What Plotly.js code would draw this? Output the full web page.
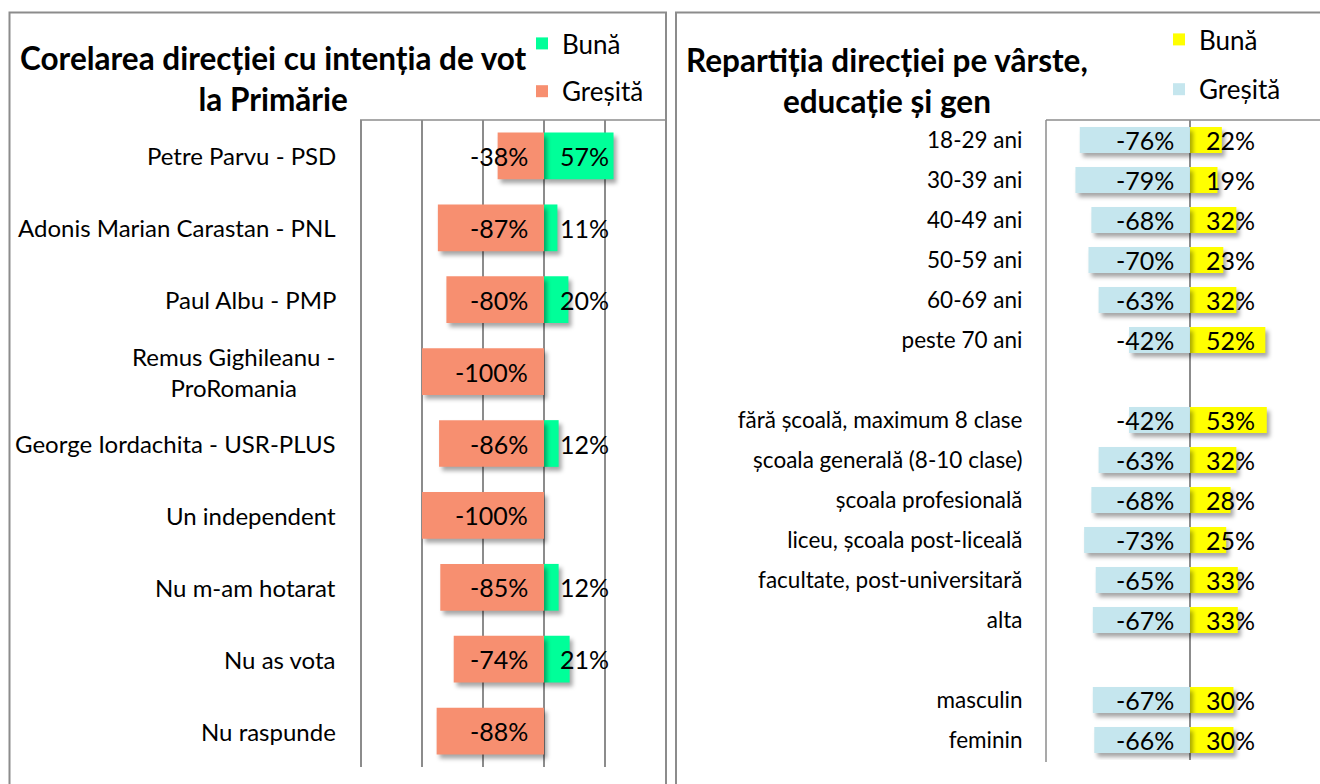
<!DOCTYPE html>
<html>
<head>
<meta charset="utf-8">
<script src="https://cdn.plot.ly/plotly-3.0.1.min.js"></script>
<style>
  html, body { margin: 0; padding: 0; background: #fff; }
  #chart { width: 1320px; height: 784px; }
  .trace.bars .point path { filter: drop-shadow(3px 4px 2px rgba(0,0,0,0.35)); }
</style>
</head>
<body>
<div id="chart"></div>
<script>
// ---- Left chart data ----
const leftCategories = [
  "Petre Parvu - PSD",
  "Adonis Marian Carastan - PNL",
  "Paul Albu - PMP",
  "Remus Gighileanu -<br>ProRomania",
  "George Iordachita - USR-PLUS",
  "Un independent",
  "Nu m-am hotarat",
  "Nu as vota",
  "Nu raspunde"
];
const leftBuna    = [57, 11, 20, null, 12, null, 12, 21, null];
const leftGresita = [-38, -87, -80, -100, -86, -100, -85, -74, -88];

// ---- Right chart data ----
const rightCategories = [
  "18-29 ani", "30-39 ani", "40-49 ani", "50-59 ani", "60-69 ani", "peste 70 ani",
  " ",
  "fără școală, maximum 8 clase", "școala generală (8-10 clase)", "școala profesională",
  "liceu, școala post-liceală", "facultate, post-universitară", "alta",
  "  ",
  "masculin", "feminin"
];
const rightBuna    = [22, 19, 32, 23, 32, 52, null, 53, 32, 28, 25, 33, 33, null, 30, 30];
const rightGresita = [-76, -79, -68, -70, -63, -42, null, -42, -63, -68, -73, -65, -67, null, -67, -66];

const leftTitle  = "Corelarea direcției cu intenția de vot<br>la Primărie";
const rightTitle = "Repartiția direcției pe vârste,<br>educație și gen";
const seriesNames = ["Bună", "Greșită"];

const FONT = "Lato, 'Open Sans', sans-serif";
const W = 1320, H = 784;
const px = v => v / W;
const py = v => 1 - v / H;

const fmt = v => v + "%";

const traces = [
  { type: "bar", orientation: "h", name: seriesNames[0], y: leftCategories, x: leftBuna,
    xaxis: "x", yaxis: "y", width: 0.65, marker: { color: "#00FF99" },
    legend: "legend", legendgroup: "lb", hoverinfo: "skip" },
  { type: "bar", orientation: "h", name: seriesNames[1], y: leftCategories, x: leftGresita,
    xaxis: "x", yaxis: "y", width: 0.65, marker: { color: "#F78F70" },
    legend: "legend", legendgroup: "lg", hoverinfo: "skip" },
  { type: "bar", orientation: "h", name: seriesNames[0], y: rightCategories, x: rightBuna,
    xaxis: "x2", yaxis: "y2", width: 0.65, marker: { color: "#FFFF00" },
    legend: "legend2", legendgroup: "rb", hoverinfo: "skip" },
  { type: "bar", orientation: "h", name: seriesNames[1], y: rightCategories, x: rightGresita,
    xaxis: "x2", yaxis: "y2", width: 0.65, marker: { color: "#C5E6EE" },
    legend: "legend2", legendgroup: "rg", hoverinfo: "skip" }
];

const annotations = [];
const labelFont = { family: FONT, size: 25, color: "#000" };

function addValueLabels(cats, vals, xref, yref) {
  cats.forEach((c, i) => {
    const v = vals[i];
    if (v === null || v === undefined) return;
    annotations.push({
      x: 0, y: c, xref: xref, yref: yref, text: fmt(v), showarrow: false,
      xanchor: v < 0 ? "right" : "left", xshift: v < 0 ? -14 : 14,
      font: labelFont
    });
  });
}
addValueLabels(leftCategories, leftGresita, "x", "y");
addValueLabels(leftCategories, leftBuna, "x", "y");
addValueLabels(rightCategories, rightGresita, "x2", "y2");
addValueLabels(rightCategories, rightBuna, "x2", "y2");

// left category labels (centered multi-line, right-aligned block)
leftCategories.forEach(c => {
  annotations.push({
    x: px(338), xref: "paper", y: c, yref: "y", text: c, showarrow: false,
    xanchor: "right", align: "center",
    font: { family: FONT, size: 24, color: "#000" }
  });
});

// titles
annotations.push({
  x: px(273), y: py(78), xref: "paper", yref: "paper", text: leftTitle, showarrow: false,
  xanchor: "center", yanchor: "middle", align: "center",
  font: { family: FONT, size: 31.5, color: "#000", weight: "bold" }
});
annotations.push({
  x: px(887), y: py(80), xref: "paper", yref: "paper", text: rightTitle, showarrow: false,
  xanchor: "center", yanchor: "middle", align: "center",
  font: { family: FONT, size: 31.5, color: "#000", weight: "bold" }
});

const boxLine = { color: "#8C8C8C", width: 2 };
const gridCol = "#8C8C8C";

const shapes = [
  // panel frames
  { type: "rect", xref: "paper", yref: "paper", x0: px(9.5), x1: px(666), y0: -0.05, y1: py(12.5), line: boxLine },
  { type: "rect", xref: "paper", yref: "paper", x0: px(676), x1: 1.05, y0: -0.05, y1: py(12.5), line: boxLine },
  // plot area top lines
  { type: "line", xref: "paper", yref: "paper", x0: px(360), x1: px(666), y0: py(120), y1: py(120), line: { color: gridCol, width: 1.5 } },
  { type: "line", xref: "paper", yref: "paper", x0: px(1046), x1: 1, y0: py(120), y1: py(120), line: { color: gridCol, width: 1.5 } },
  // right plot area left border
  { type: "line", xref: "paper", yref: "paper", x0: px(1046), x1: px(1046), y0: py(762), y1: py(120), line: { color: gridCol, width: 1.5 } }
];

// left x axis: 122 px per 100 points, zero at x=544
const lx0 = 356.3, lx1 = 666;
const layout = {
  width: W, height: H,
  margin: { l: 0, r: 0, t: 0, b: 0 },
  paper_bgcolor: "#fff", plot_bgcolor: "rgba(0,0,0,0)",
  font: { family: FONT, color: "#000" },
  barmode: "overlay",
  showlegend: true,
  xaxis: {
    domain: [px(lx0), px(lx1)], range: [(lx0 - 544) / 1.22, (lx1 - 544) / 1.22], dtick: 50, tick0: 0,
    showgrid: true, gridcolor: gridCol, gridwidth: 1.5,
    zeroline: true, zerolinecolor: gridCol, zerolinewidth: 1.5,
    showticklabels: false, showline: false, fixedrange: true
  },
  yaxis: {
    domain: [py(767), py(120)], type: "category", autorange: "reversed",
    showticklabels: false, showgrid: false, zeroline: false, showline: false,
    anchor: "x", fixedrange: true
  },
  xaxis2: {
    domain: [px(1046), 1], range: [-99.3, 89.7], anchor: "y2",
    showgrid: false, zeroline: true, zerolinecolor: gridCol, zerolinewidth: 1.5,
    showticklabels: false, showline: false, fixedrange: true
  },
  yaxis2: {
    domain: [py(760), py(120)], type: "category", autorange: "reversed", anchor: "x2",
    showticklabels: true, ticks: "outside", ticklen: 18, tickcolor: "rgba(0,0,0,0)",
    tickfont: { family: FONT, size: 22.5, color: "#000" },
    showgrid: false, zeroline: false, showline: false, fixedrange: true
  },
  legend: {
    x: px(522), y: py(20), xanchor: "left", yanchor: "top",
    font: { family: FONT, size: 26, color: "#000" },
    tracegroupgap: 11, bgcolor: "rgba(0,0,0,0)", traceorder: "grouped", itemclick: false
  },
  legend2: {
    x: px(1159), y: py(16), xanchor: "left", yanchor: "top",
    font: { family: FONT, size: 26, color: "#000" },
    tracegroupgap: 13, bgcolor: "rgba(0,0,0,0)", traceorder: "grouped", itemclick: false
  },
  annotations: annotations,
  shapes: shapes
};

Plotly.newPlot("chart", traces, layout, { staticPlot: true, displayModeBar: false });
</script>
</body>
</html>
